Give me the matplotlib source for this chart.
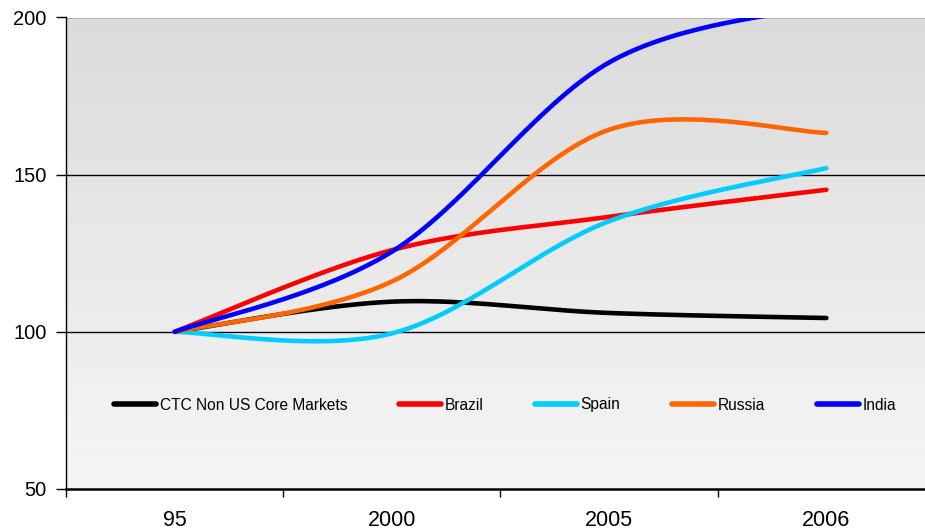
import numpy as np
import matplotlib
matplotlib.use("Agg")
import matplotlib.pyplot as plt

categories = ["95", "2000", "2005", "2006"]
series_names = ["CTC Non US Core Markets", "Brazil", "Spain", "Russia", "India"]
ctc = [100, 109.6, 106.0, 104.4]
brazil = [100, 126.0, 136.6, 145.2]
spain = [100, 99.5, 135.2, 152.1]
russia = [100, 116.0, 164.3, 163.3]
india = [100, 125.5, 185.7, 204.0]
colors = ["#000000", "#FF0000", "#00CCFF", "#FF6600", "#0000FF"]
yticks = [50, 100, 150, 200]

plt.rcParams["font.family"] = ["Liberation Sans", "DejaVu Sans"]


def smooth(xs, ys, n=60):
    """Excel-style smoothed line: cubic Bezier with Catmull-Rom control points."""
    P = np.column_stack([xs, ys]).astype(float)
    out = []
    m = len(P)
    for i in range(m - 1):
        p0 = P[i - 1] if i > 0 else P[i]
        p1 = P[i]
        p2 = P[i + 1]
        p3 = P[i + 2] if i + 2 < m else P[i + 1]
        c1 = p1 + (p2 - p0) / 6.0
        c2 = p2 - (p3 - p1) / 6.0
        t = np.linspace(0, 1, n)[:, None]
        seg = ((1 - t) ** 3) * p1 + 3 * ((1 - t) ** 2) * t * c1 + 3 * (1 - t) * t ** 2 * c2 + t ** 3 * p2
        if i > 0:
            seg = seg[1:]
        out.append(seg)
    c = np.vstack(out)
    return c[:, 0], c[:, 1]


W, H = 925, 531
fig = plt.figure(figsize=(W / 100, H / 100), dpi=100)
left, right, top, bottom = 66, 935, 17.5, 489
ax = fig.add_axes([left / W, 1 - bottom / H, (right - left) / W, (bottom - top) / H])

# gradient background
grad = np.linspace(0, 1, 256)[:, None]
top_c = np.array([219, 219, 219]) / 255
bot_c = np.array([246, 246, 246]) / 255
img = top_c[None, None, :] * (1 - grad[:, :, None]) + bot_c[None, None, :] * grad[:, :, None]
ax.imshow(img, extent=[0, 1, 0, 1], transform=ax.transAxes, aspect="auto", zorder=0, origin="upper")

x = np.arange(len(categories))
all_series = [ctc, brazil, spain, russia, india]
for name, vals, col in zip(series_names, all_series, colors):
    sx, sy = smooth(x, vals)
    ax.plot(sx, sy, color=col, lw=3.3, label=name, solid_capstyle="round", zorder=3)

ax.set_xlim(-0.5, len(categories) - 0.5)
ax.set_ylim(50, 200)
ax.set_yticks(yticks)
ax.set_yticklabels([str(v) for v in yticks], fontsize=14.5)
ax.set_xticks(x)
ax.set_xticklabels(categories, fontsize=15.5)
ax.set_xticks(np.arange(-0.5, len(categories), 1.0), minor=True)
ax.tick_params(axis="x", which="major", length=0, pad=15)
ax.tick_params(axis="x", which="minor", length=6, width=1, direction="out", color="black")
ax.tick_params(axis="y", length=7, width=1, direction="out", pad=7)

for v in [100, 150, 200]:
    ax.axhline(v, color="black", lw=1.0, zorder=1)

for s in ["top", "right"]:
    ax.spines[s].set_visible(False)
ax.spines["left"].set_linewidth(1.0)
ax.spines["bottom"].set_linewidth(1.8)

leg = ax.legend(loc="center left", bbox_to_anchor=((114 - left) / (right - left), (bottom - 405) / (bottom - top)),
                ncol=5, frameon=False, fontsize=11.2, handlelength=2.7, handletextpad=0.25,
                columnspacing=3.3, borderpad=0, borderaxespad=0)
for h in leg.get_lines():
    h.set_linewidth(4)

fig.savefig("out.png", dpi=100)
